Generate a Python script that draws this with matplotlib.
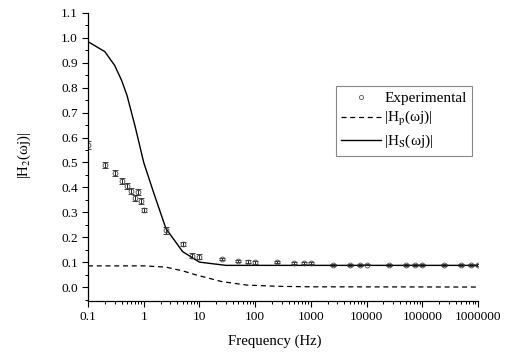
import matplotlib
matplotlib.use("Agg")
import matplotlib.pyplot as plt
from matplotlib.lines import Line2D
from matplotlib.ticker import LogLocator, MultipleLocator, FixedLocator, NullFormatter

plt.rcParams['font.family'] = ['Liberation Serif', 'DejaVu Serif']
plt.rcParams['mathtext.fontset'] = 'stix'

# Experimental data
exp_freq = [0.1, 0.2, 0.3, 0.4, 0.5, 0.6, 0.7, 0.8, 0.9, 1.0, 2.5, 5, 7.5, 10, 25, 50, 75, 100,
            250, 500, 750, 1000, 2500, 5000, 7500, 10000, 25000, 50000, 75000, 100000,
            250000, 500000, 750000, 1000000]
exp_val = [0.57, 0.491, 0.457, 0.427, 0.405, 0.386, 0.356, 0.382, 0.347, 0.309, 0.228, 0.173,
           0.125, 0.122, 0.112, 0.104, 0.102, 0.099,
           0.099, 0.098, 0.098, 0.096, 0.089, 0.088, 0.089, 0.090, 0.089, 0.089, 0.089, 0.089,
           0.089, 0.089, 0.089, 0.089]
exp_err = [0.015, 0.012, 0.012, 0.012, 0.012, 0.012, 0.012, 0.012, 0.012, 0.008, 0.015, 0.008,
           0.010, 0.010, 0.005, 0.005, 0.005, 0.005,
           0.004, 0.004, 0.004, 0.004, 0.003, 0.003, 0.003, 0.003, 0.003, 0.003, 0.003, 0.003,
           0.003, 0.003, 0.003, 0.003]

# |Hs| solid curve
hs_freq = [0.1, 0.2, 0.3, 0.4, 0.5, 0.7, 1.0, 1.5, 2.5, 5, 10, 30, 100, 1000, 1000000]
hs_val = [0.985, 0.945, 0.89, 0.83, 0.77, 0.645, 0.50, 0.38, 0.235, 0.142, 0.100, 0.087,
          0.087, 0.087, 0.087]

# |Hp| dashed curve
hp_freq = [0.1, 1.0, 2.5, 5, 7.5, 10, 15, 25, 70, 250, 1000, 1000000]
hp_val = [0.085, 0.085, 0.080, 0.065, 0.053, 0.045, 0.035, 0.022, 0.008, 0.003, 0.001, 0.0]

fig = plt.figure(figsize=(5.05, 3.56), dpi=100)
ax = fig.add_axes([0.1743, 0.1545, 0.7722, 0.809])

ax.plot(hs_freq, hs_val, '-', color='black', lw=1.0)
ax.plot(hp_freq, hp_val, '--', color='black', lw=0.9, dashes=(4, 3))
ax.errorbar(exp_freq, exp_val, yerr=exp_err, fmt='o', ms=3.5, mfc='none', mec='#444444',
            mew=0.6, ecolor='#222222', elinewidth=0.7, capsize=2.5, capthick=0.7)

ax.set_xscale('log')
ax.set_xlim(0.1, 1000000)
ax.set_ylim(-0.056, 1.1)

ax.xaxis.set_major_locator(FixedLocator([0.1, 1, 10, 100, 1000, 10000, 100000, 1000000]))
ax.set_xticklabels(['0.1', '1', '10', '100', '1000', '10000', '100000', '1000000'])
ax.xaxis.set_minor_locator(LogLocator(base=10, subs=range(2, 10), numticks=20))
ax.xaxis.set_minor_formatter(NullFormatter())
ax.set_yticks([round(0.1 * i, 1) for i in range(12)])
ax.set_yticklabels([f'{0.1 * i:.1f}' for i in range(12)])
ax.yaxis.set_minor_locator(MultipleLocator(0.05))

for s in ['top', 'right']:
    ax.spines[s].set_visible(False)
for s in ['left', 'bottom']:
    ax.spines[s].set_linewidth(0.9)

ax.tick_params(which='major', direction='out', length=4.3, width=0.8, labelsize=9.6, pad=3)
ax.tick_params(which='minor', direction='out', length=2.3, width=0.7)

ax.set_xlabel('Frequency (Hz)', fontsize=10.7)
ax.xaxis.set_label_coords(0.48, -0.118)
ax.set_ylabel(r'|H$_2$(ωj)|', fontsize=10.7)
ax.yaxis.set_label_coords(-0.142, 0.505)

handles = [
    Line2D([], [], ls='none', marker='o', ms=3, mfc='none', mec='#555555', mew=0.6),
    Line2D([], [], ls='--', color='black', lw=0.9, dashes=(4, 3)),
    Line2D([], [], ls='-', color='black', lw=1.0),
]
labels = ['Experimental', r'|H$_\mathrm{p}$(ωj)|', r'|H$_\mathrm{S}$(ωj)|']
leg = ax.legend(handles, labels, loc='upper left', bbox_to_anchor=(0.636, 0.747),
                borderaxespad=0, fontsize=11, fancybox=False, framealpha=1,
                edgecolor='#888888', handlelength=2.6, handletextpad=0.2,
                borderpad=0.35, labelspacing=0.3)
leg.get_frame().set_linewidth(0.8)

fig.savefig('out.png', dpi=100)
